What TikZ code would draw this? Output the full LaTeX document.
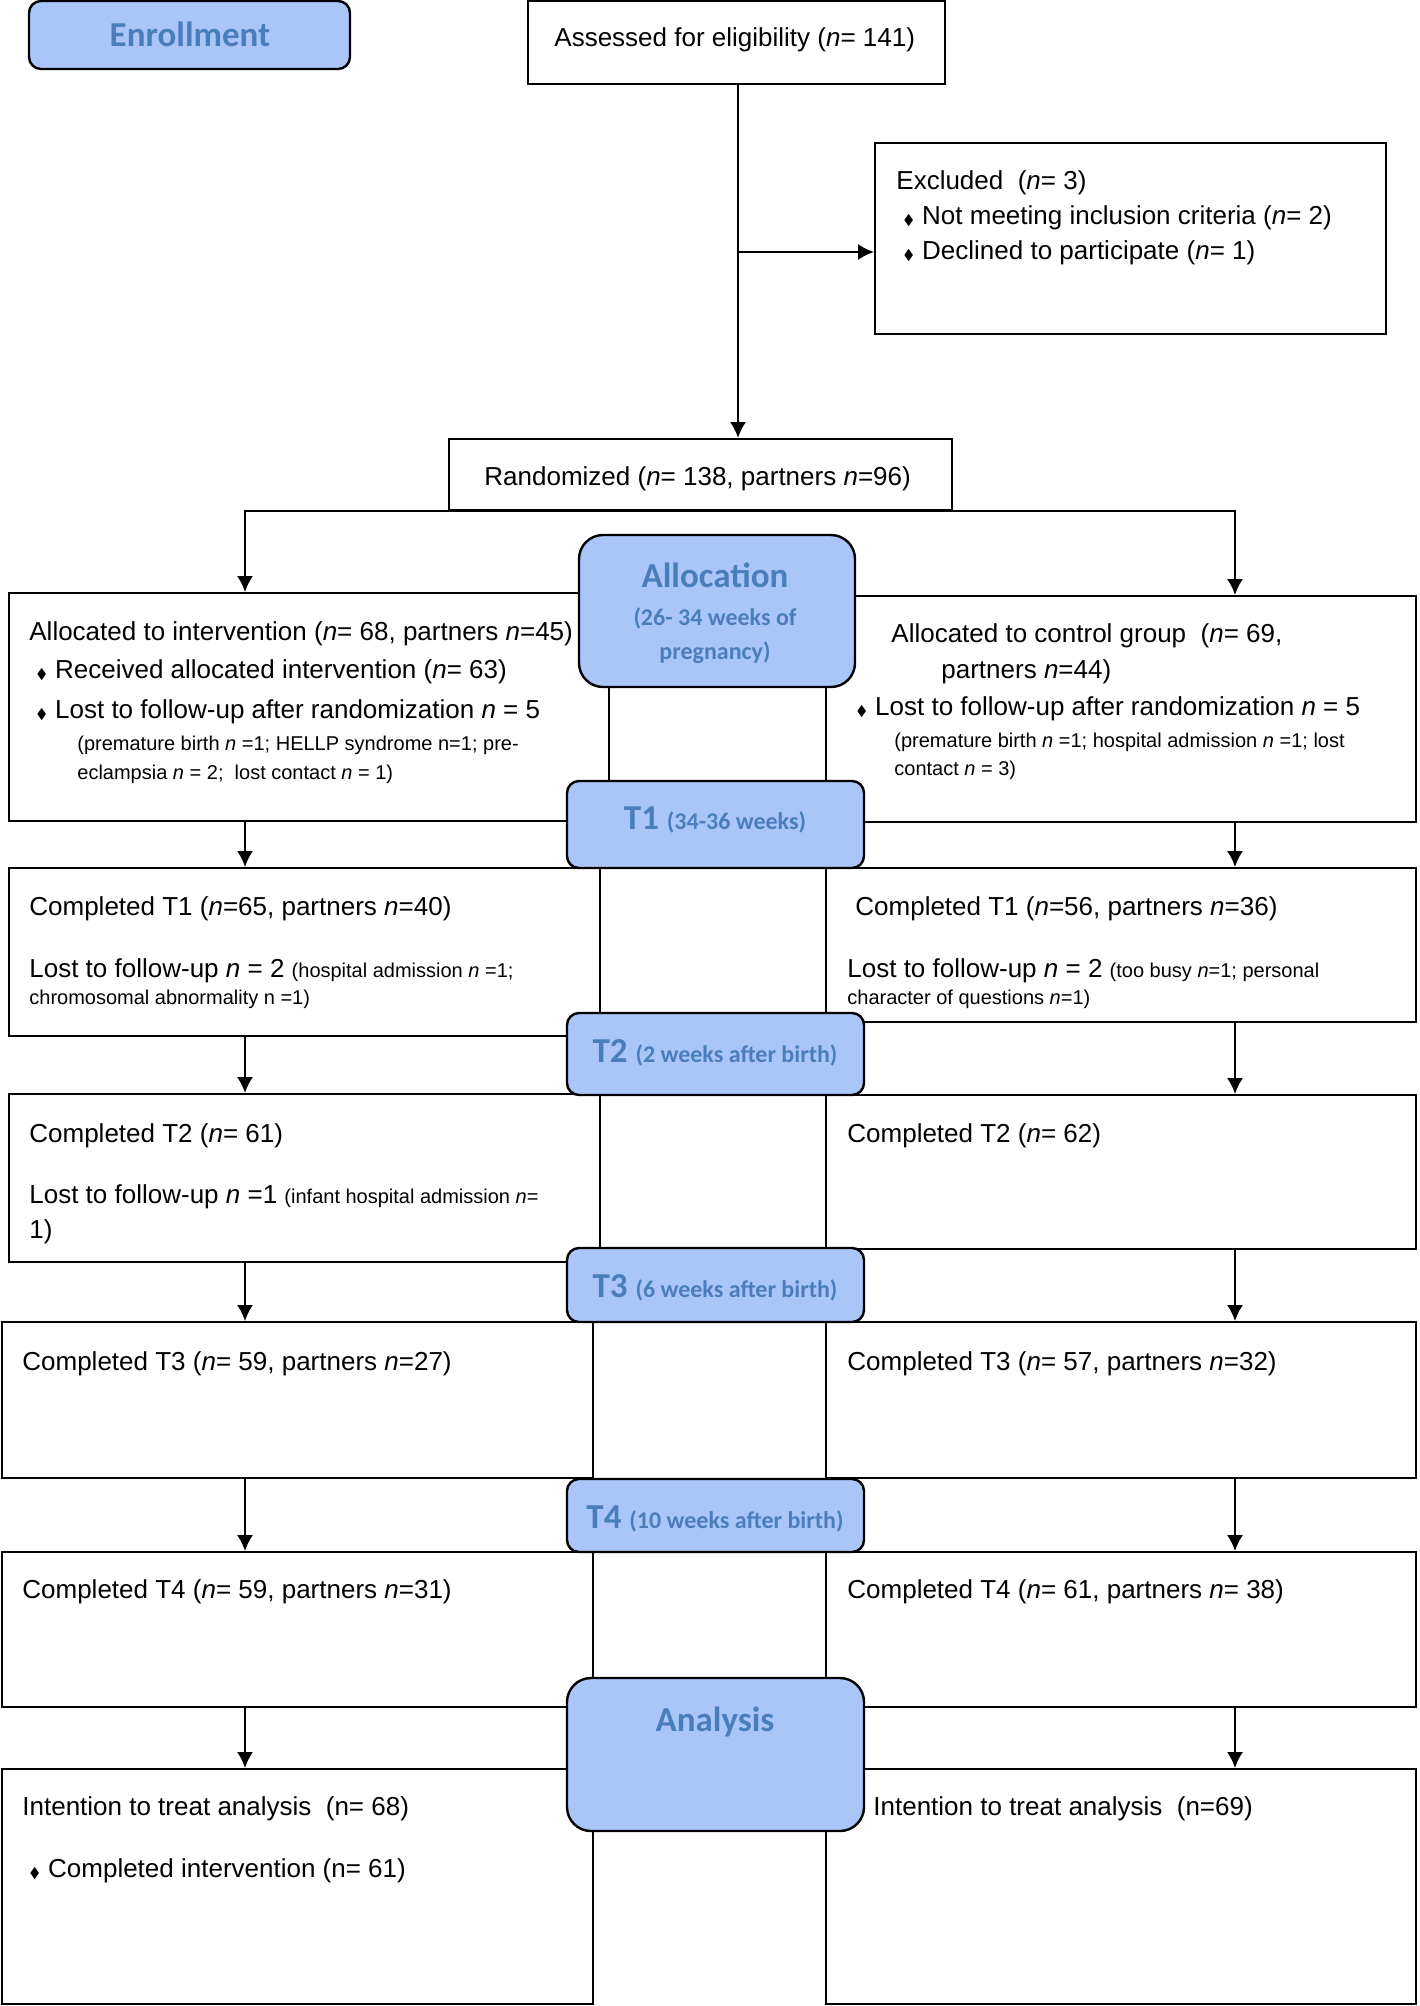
\documentclass[tikz,border=0pt]{standalone}
\usepackage{fontspec}
\usepackage{amssymb}
\setmainfont{Liberation Sans}
\newfontfamily\hdrfont{Carlito}
\usetikzlibrary{arrows.meta,fit,positioning}
\definecolor{stagefill}{RGB}{170,198,248}
\definecolor{stagetext}{RGB}{74,126,187}
\newcommand{\bul}{{\fontsize{7}{7}\selectfont$\blacklozenge$}\hspace{4pt}}
\newcommand{\sm}[1]{{\fontsize{10}{12}\selectfont #1}}

\begin{document}
\begin{tikzpicture}[x=0.5pt,y=-0.5pt,
  box/.style={draw,line width=1pt,inner sep=0pt},
  stage/.style={draw,line width=1.2pt,fill=stagefill,rounded corners=6pt,inner sep=0pt},
  txt/.style={anchor=base west,inner sep=0pt,font=\fontsize{13}{19}\selectfont},
  sml/.style={txt,font=\fontsize{10}{14.5}\selectfont},
  hdr/.style={anchor=base,inner sep=0pt,text=stagetext,font=\hdrfont\bfseries\fontsize{17.5}{21}\selectfont},
  subhdr/.style={anchor=base,inner sep=0pt,text=stagetext,font=\hdrfont\bfseries\fontsize{12}{17}\selectfont},
  arr/.style={-{Latex[length=8pt,width=8pt]},line width=0.9pt}]
\useasboundingbox (0,0) rectangle (1419,2006);

% boxes
\node[box,fit={(528,1) (945,84)}] (assess) {};
\node[box,fit={(875,143) (1386,334)}] (excl) {};
\node[box,fit={(449,439) (952,510)}] (rand) {};
\node[box,fit={(9,593) (609,821)}] (intv) {};
\node[box,fit={(826,596) (1416,822)}] (ctrl) {};
\node[box,fit={(9,868) (600,1036)}] (fuA1) {};
\node[box,fit={(826,868) (1416,1022)}] (fuB1) {};
\node[box,fit={(9,1094) (600,1262)}] (fuA2) {};
\node[box,fit={(826,1095) (1416,1249)}] (fuB2) {};
\node[box,fit={(2,1322) (593,1478)}] (fuA3) {};
\node[box,fit={(826,1322) (1416,1478)}] (fuB3) {};
\node[box,fit={(2,1552) (593,1707)}] (fuA4) {};
\node[box,fit={(826,1552) (1416,1707)}] (fuB4) {};
\node[box,fit={(2,1769) (593,2004)}] (ittA) {};
\node[box,fit={(826,1769) (1416,2004)}] (ittB) {};

% arrows
\coordinate (split) at (738,252);
\coordinate (lx) at (245,0);
\coordinate (rx) at (1235,0);
\draw[arr] (assess.south -| split) -- (rand.north -| split);
\draw[arr] (split) -- (split -| excl.west);
\draw[arr] (rand.south) -| (intv.north -| lx);
\draw[arr] (rand.south) -| (ctrl.north -| rx);
\draw[arr] (intv.south -| lx) -- (fuA1.north -| lx);
\draw[arr] (ctrl.south -| rx) -- (fuB1.north -| rx);
\draw[arr] (fuA1.south -| lx) -- (fuA2.north -| lx);
\draw[arr] (fuB1.south -| rx) -- (fuB2.north -| rx);
\draw[arr] (fuA2.south -| lx) -- (fuA3.north -| lx);
\draw[arr] (fuB2.south -| rx) -- (fuB3.north -| rx);
\draw[arr] (fuA3.south -| lx) -- (fuA4.north -| lx);
\draw[arr] (fuB3.south -| rx) -- (fuB4.north -| rx);
\draw[arr] (fuA4.south -| lx) -- (ittA.north -| lx);
\draw[arr] (fuB4.south -| rx) -- (ittB.north -| rx);

% stage labels
\node[stage,fit={(29,1) (350,69)}] (enrol) {};
\node[stage,rounded corners=12pt,fit={(579,535) (855,687)}] (alloc) {};
\node[stage,fit={(567,781) (864,868)}] (tp1) {};
\node[stage,fit={(567,1013) (864,1095)}] (tp2) {};
\node[stage,fit={(567,1248) (864,1322)}] (tp3) {};
\node[stage,fit={(567,1479) (864,1552)}] (tp4) {};
\node[stage,rounded corners=12pt,fit={(567,1678) (864,1831)}] (anal) {};

\node[hdr] (tEnrol) at (190,47) {Enrollment};
\node[hdr] (tAlloc) at (715,587) {Allocation};
\node[subhdr] (tAllocA) at (715,625) {(26- 34 weeks of};
\node[subhdr] (tAllocB) at (715,659) {pregnancy)};
\node[hdr] (tT1) at (715,829) {T1 {\fontsize{12}{14}\selectfont(34-36 weeks)}};
\node[hdr] (tT2) at (715,1062) {T2 {\fontsize{12}{14}\selectfont(2 weeks after birth)}};
\node[hdr] (tT3) at (715,1297) {T3 {\fontsize{12}{14}\selectfont(6 weeks after birth)}};
\node[hdr] (tT4) at (715,1528) {T4 {\fontsize{12}{14}\selectfont(10 weeks after birth)}};
\node[hdr] (tAnal) at (715,1731) {Analysis};

% texts
\node[txt] (tAssess) at (554,47) {Assessed for eligibility (\textit{n}= 141)};
\node[txt] (tExcl) at (896,190) {Excluded~ (\textit{n}= 3)};
\node[txt] (tExclA) at (903,225) {\bul Not meeting inclusion criteria (\textit{n}= 2)};
\node[txt] (tExclB) at (903,260) {\bul Declined to participate (\textit{n}= 1)};
\node[txt] (tRand) at (484,485) {Randomized (\textit{n}= 138, partners \textit{n}=96)};

\node[txt] (tIntv) at (29,640) {Allocated to intervention (\textit{n}= 68, partners \textit{n}=45)};
\node[txt] (tIntvA) at (36,678) {\bul Received allocated intervention (\textit{n}= 63)};
\node[txt] (tIntvB) at (36,718) {\bul Lost to follow-up after randomization \textit{n} = 5};
\node[sml] (tIntvC) at (77,750) {(premature birth \textit{n} =1; HELLP syndrome n=1; pre-};
\node[sml] (tIntvD) at (77,779) {eclampsia \textit{n} = 2;~ lost contact \textit{n} = 1)};
\node[txt] (tCtrl) at (891,642) {Allocated to control group~ (\textit{n}= 69,};
\node[txt] (tCtrlA) at (941,678) {partners \textit{n}=44)};
\node[txt] (tCtrlB) at (856,715) {\bul Lost to follow-up after randomization \textit{n} = 5};
\node[sml] (tCtrlC) at (894,747) {(premature birth \textit{n} =1; hospital admission \textit{n} =1; lost};
\node[sml] (tCtrlD) at (894,775) {contact \textit{n} = 3)};

\node[txt] (tA1) at (29,915) {Completed T1 (\textit{n}=65, partners \textit{n}=40)};
\node[txt] (tA1b) at (29,977) {Lost to follow-up \textit{n} = 2 \sm{(hospital admission \textit{n} =1;}};
\node[sml] (tA1c) at (29,1004) {chromosomal abnormality n =1)};
\node[txt] (tB1) at (855,915) {Completed T1 (\textit{n}=56, partners \textit{n}=36)};
\node[txt] (tB1b) at (847,977) {Lost to follow-up \textit{n} = 2 \sm{(too busy \textit{n}=1; personal}};
\node[sml] (tB1c) at (847,1004) {character of questions \textit{n}=1)};

\node[txt] (tA2) at (29,1142) {Completed T2 (\textit{n}= 61)};
\node[txt] (tA2b) at (29,1203) {Lost to follow-up \textit{n} =1 \sm{(infant hospital admission \textit{n}=}};
\node[txt] (tA2c) at (29,1238) {1)};
\node[txt] (tB2) at (847,1142) {Completed T2 (\textit{n}= 62)};

\node[txt] (tA3) at (22,1370) {Completed T3 (\textit{n}= 59, partners \textit{n}=27)};
\node[txt] (tB3) at (847,1370) {Completed T3 (\textit{n}= 57, partners \textit{n}=32)};
\node[txt] (tA4) at (22,1598) {Completed T4 (\textit{n}= 59, partners \textit{n}=31)};
\node[txt] (tB4) at (847,1598) {Completed T4 (\textit{n}= 61, partners \textit{n}= 38)};

\node[txt] (tIttA) at (22,1815) {Intention to treat analysis~ (n= 68)};
\node[txt] (tIttAa) at (29,1877) {\bul Completed intervention (n= 61)};
\node[txt] (tIttB) at (873,1815) {Intention to treat analysis~ (n=69)};
\end{tikzpicture}
\end{document}
